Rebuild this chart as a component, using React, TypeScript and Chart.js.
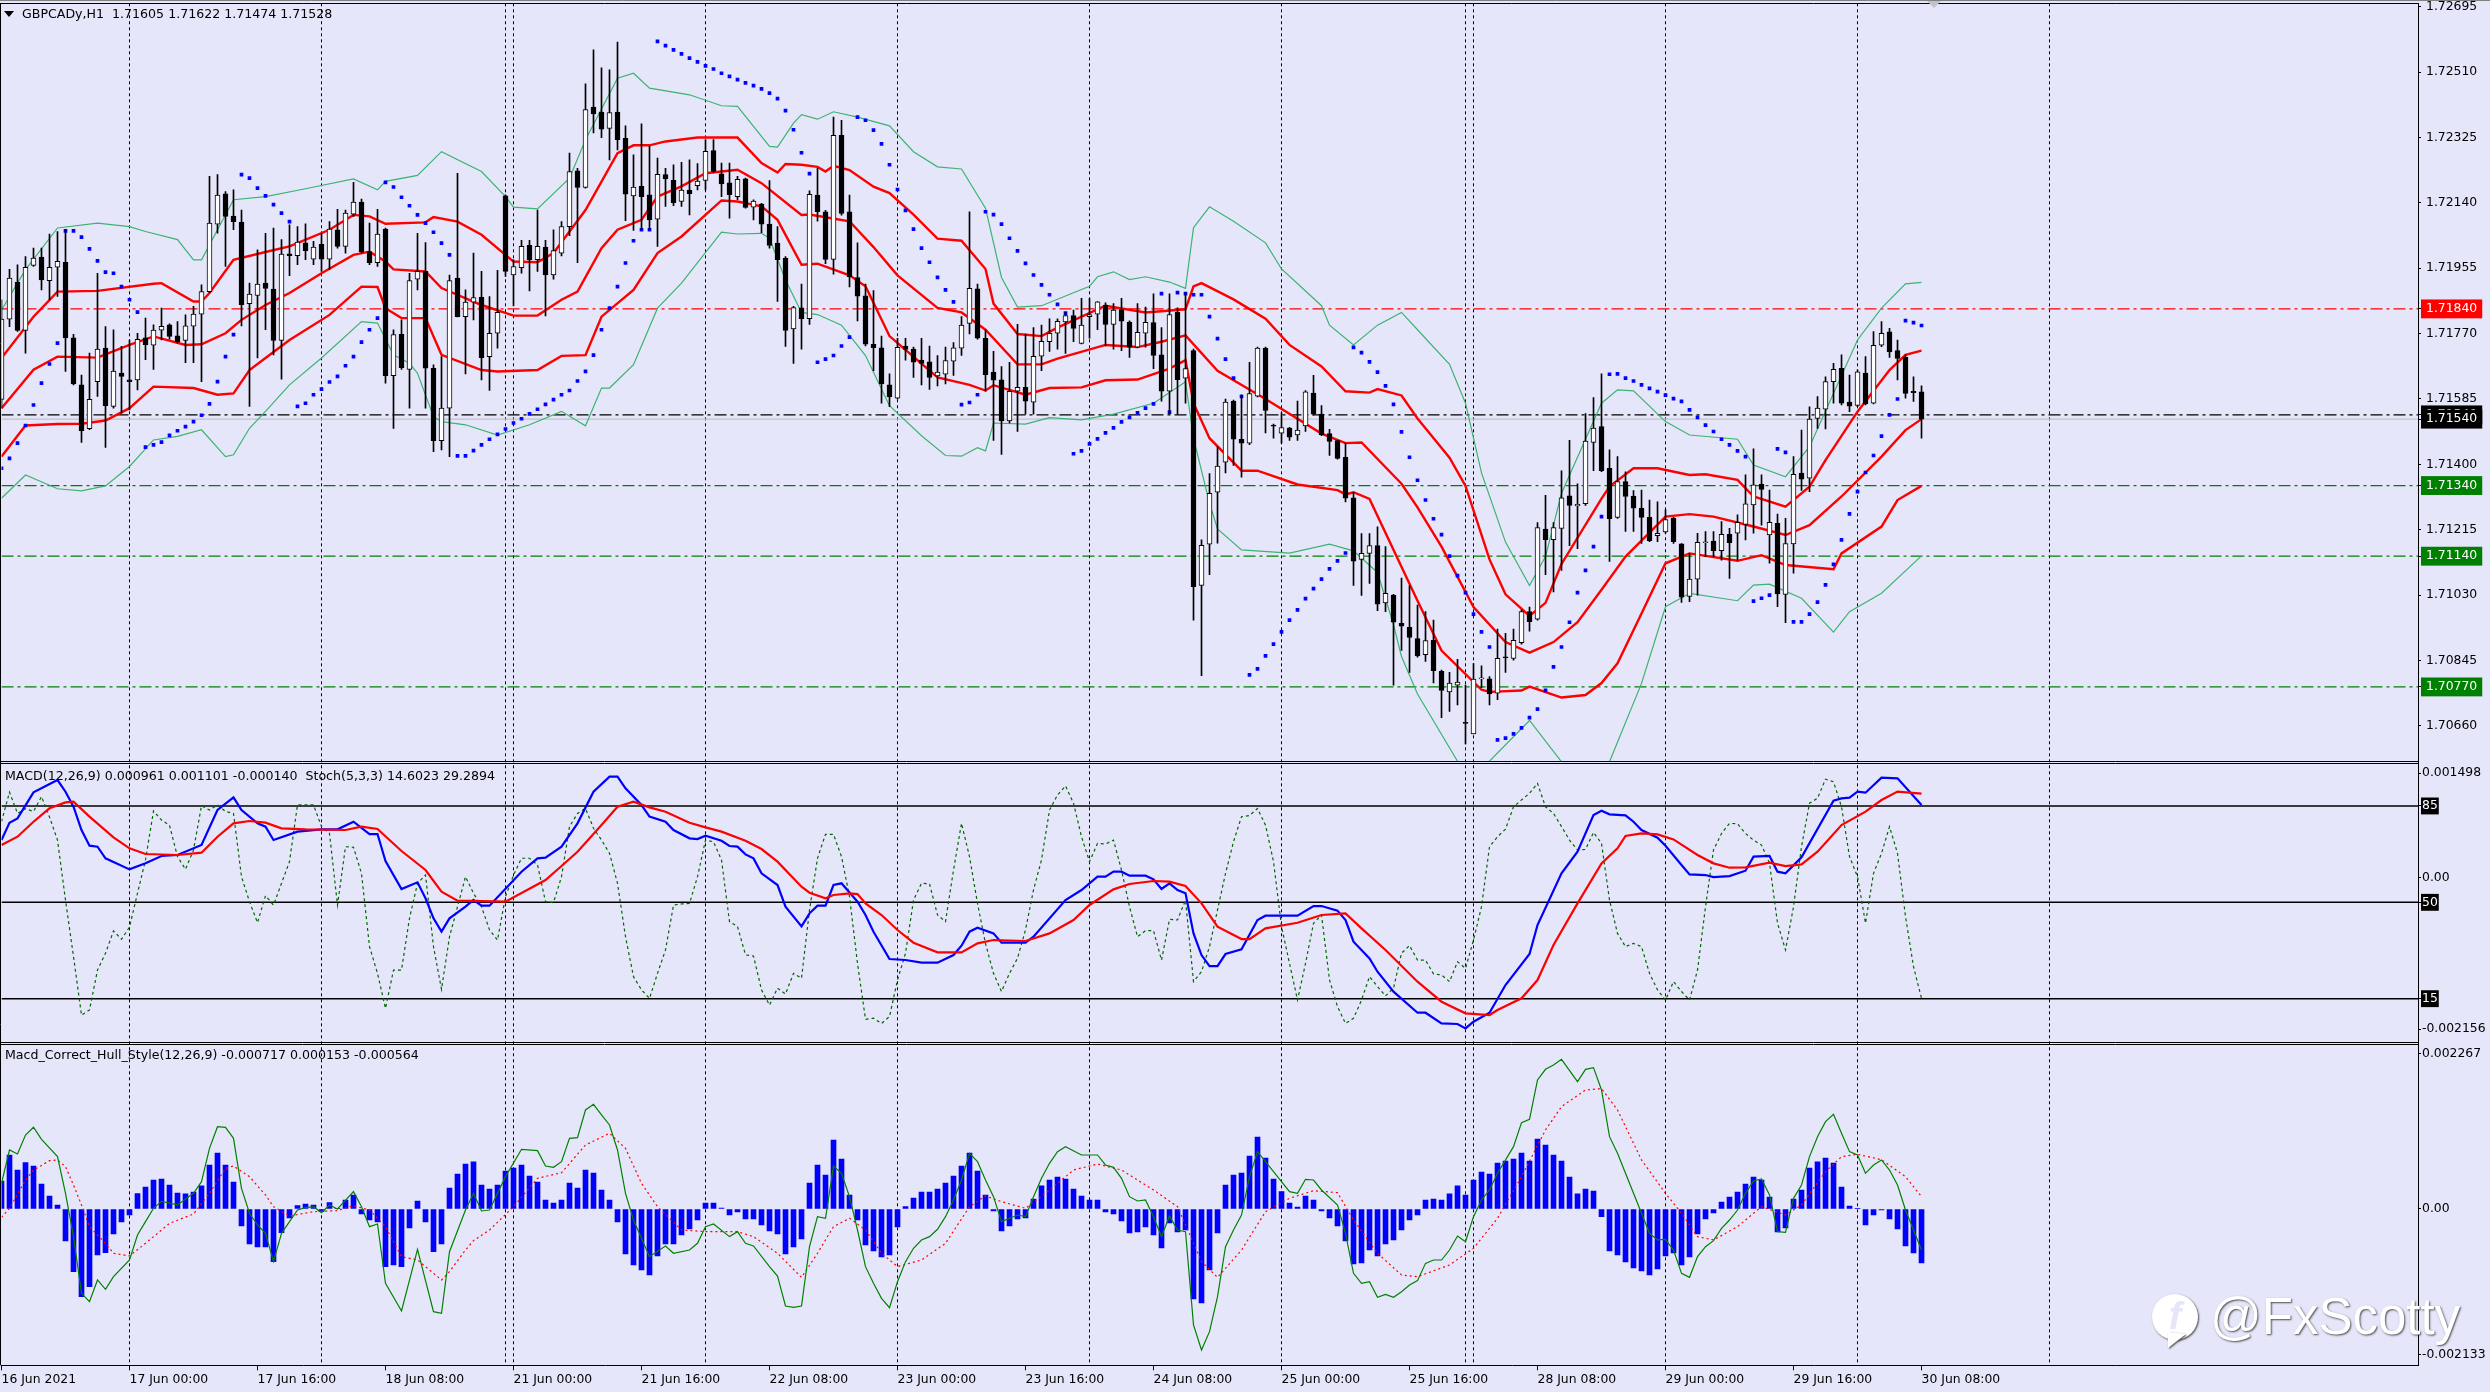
import { useEffect, useRef } from 'react';
import { Chart, registerables } from 'chart.js';

Chart.register(...registerables);

// prices are in points above 1.00000, MACD and Hull values in millionths
const OPEN = [
  71584,71811,71916,71779,71963,71987,71920,71958,71972,71758,
  71625,71501,71634,71729,71564,71658,71639,71639,71758,71737,
  71780,71795,71764,71751,71791,71825,71889,72080,72166,72103,
  72086,71855,71878,71913,71896,71751,71996,71991,72027,71981,
  72023,71981,72064,72017,72108,72142,72002,71971,72066,71651,
  71768,71669,71924,71946,71672,71467,71559,71927,71818,71859,
  71873,71705,71771,72160,71936,71957,72020,71979,72015,71936,
  71998,72073,72231,72184,72411,72397,72351,72397,72323,72160,
  72187,72163,72094,72220,72204,72144,72176,72189,72204,72288,
  72222,72197,72158,72208,72128,72137,72080,72026,71984,71783,
  71843,71812,72162,72115,71980,72331,72115,71929,71877,71740,
  71730,71625,71587,71735,71726,71695,71690,71650,71655,71692,
  71729,71799,71897,71757,71661,71639,71523,71607,71618,71576,
  71706,71747,71771,71803,71821,71742,71818,71825,71851,71796,
  71838,71803,71732,71771,71801,71710,71607,71830,71644,71722,
  71057,71174,71321,71406,71579,71471,71460,71593,71729,71509,
  71488,71503,71483,71509,71602,71542,71487,71467,71420,71305,
  71131,71148,71170,71008,71030,70950,70939,70907,70861,70902,
  70814,70756,70775,70668,70637,70793,70793,70752,70854,70851,
  70895,70983,70962,71217,71187,71219,71311,71282,71289,71462,
  71507,71389,71250,71351,71310,71276,71250,71198,71209,71248,
  71175,71026,71075,71178,71183,71156,71202,71205,71230,71285,
  71344,71200,71233,71032,71175,71375,71361,71530,71556,71634,
  71672,71576,71567,71658,71573,71737,71775,71722,71703,71607,
  71605,
];
const HIGH = [
  71866,71952,71965,71988,72012,72012,72052,72059,72064,71768,
  71653,71715,71941,71790,71781,71734,71752,71771,71814,71795,
  71842,71798,71804,71823,71847,71908,72215,72220,72172,72177,
  72120,71913,72007,72054,72069,72036,72078,72073,72081,72031,
  72054,72087,72122,72120,72198,72151,72083,72122,72069,71781,
  71809,71941,72054,72028,71682,71705,71936,72224,71894,71998,
  71946,71875,71949,72163,71979,72034,72034,72120,72034,72064,
  72087,72281,72238,72477,72573,72522,72517,72595,72358,72276,
  72364,72300,72267,72238,72248,72255,72262,72251,72319,72319,
  72253,72253,72215,72210,72149,72139,72203,72073,71988,71847,
  71910,72174,72238,72119,72383,72374,72162,72027,71910,71892,
  71763,71656,71757,71757,71732,71757,71735,71708,71732,71745,
  71818,72115,71910,71781,71720,71677,71689,71796,71769,71787,
  71794,71812,71812,71830,71837,71870,71870,71861,71857,71855,
  71870,71806,71855,71845,71883,71787,71883,71843,71886,71726,
  71186,71374,71450,71585,71582,71597,71689,71732,71732,71514,
  71546,71505,71579,71609,71652,71566,71499,71468,71460,71321,
  71204,71204,71223,71167,71032,71078,71057,71002,70983,70959,
  70818,70811,70848,70775,70836,70830,70799,70934,70922,70934,
  70989,70996,71235,71312,71235,71382,71468,71345,71544,71589,
  71656,71441,71422,71379,71326,71327,71299,71294,71271,71250,
  71176,71148,71205,71210,71210,71238,71219,71257,71370,71444,
  71370,71327,71259,71247,71422,71497,71563,71592,71648,71686,
  71710,71653,71667,71705,71776,71804,71785,71752,71710,71648,
  71622,
];
const LOW = [
  71559,71790,71776,71715,71960,71894,71866,71875,71663,71625,
  71462,71498,71592,71448,71559,71545,71554,71611,71696,71669,
  71752,71754,71743,71688,71688,71634,71886,72054,71960,72064,
  71792,71564,71701,71781,71710,71641,71934,71965,71979,71965,
  71946,71951,72012,71998,72102,71998,71965,71960,71630,71502,
  71669,71559,71894,71559,71436,71441,71422,71817,71656,71809,
  71639,71609,71729,71932,71849,71941,71891,71946,71820,71924,
  71990,72047,71971,72182,72338,72325,72262,72290,72090,72062,
  72064,72064,72017,72130,72132,72130,72106,72177,72177,72226,
  72158,72097,72149,72125,72092,72056,72012,71861,71734,71686,
  71726,71796,72088,71968,71938,72105,71902,71806,71735,71665,
  71573,71563,71585,71695,71646,71625,71612,71622,71628,71652,
  71708,71769,71754,71607,71468,71428,71517,71493,71542,71542,
  71665,71720,71726,71714,71747,71741,71757,71781,71735,71726,
  71722,71703,71730,71732,71671,71579,71542,71542,71573,70959,
  70802,71088,71177,71376,71397,71364,71456,71591,71489,71474,
  71460,71468,71468,71493,71539,71481,71425,71415,71294,71057,
  71029,71063,70986,70983,70775,70873,70811,70854,70842,70781,
  70683,70701,70719,70609,70637,70768,70719,70734,70811,70846,
  70891,70928,70959,71088,71039,71100,71170,71161,71284,71382,
  71379,71125,71247,71210,71210,71176,71181,71181,71205,71176,
  71009,71011,71030,71139,71139,71129,71077,71129,71186,71205,
  71228,71120,70997,70952,71092,71326,71323,71502,71500,71573,
  71568,71549,71563,71568,71571,71733,71703,71639,71587,71578,
  71474,
];
const CLOSE = [
  71811,71927,71779,71958,71984,71922,71958,71975,71758,71628,
  71495,71584,71726,71566,71664,71649,71634,71754,71739,71780,
  71791,71762,71747,71792,71825,71889,72083,72162,72102,72087,
  71852,71882,71910,71898,71751,71995,71991,72029,72005,72015,
  71981,72066,72017,72111,72142,72002,71971,72052,71651,71767,
  71674,71920,71946,71672,71467,71559,71920,71818,71859,71872,
  71702,71771,71830,71946,71960,72017,71979,72017,71936,72005,
  72073,72229,72184,72404,72392,72349,72396,72319,72165,72185,
  72158,72092,72221,72208,72141,72176,72166,72202,72286,72229,
  72194,72163,72207,72127,72145,72080,72020,71979,71779,71844,
  71812,72164,72115,71980,72331,72110,71931,71876,71740,71730,
  71628,71591,71731,71725,71689,71686,71646,71661,71694,71730,
  71794,71898,71757,71654,71638,71523,71607,71618,71579,71706,
  71748,71771,71805,71821,71785,71794,71824,71860,71796,71837,
  71805,71732,71774,71802,71708,71607,71824,71640,71671,71054,
  71171,71318,71395,71576,71471,71460,71600,71729,71553,71508,
  71504,71477,71497,71605,71542,71484,71465,71417,71304,71126,
  71148,71170,71004,71035,70953,70942,70910,70858,70901,70816,
  70760,70781,70784,70667,70792,70793,70750,70851,70852,70902,
  70983,70955,71221,71187,71221,71305,71284,71287,71466,71503,
  71382,71246,71351,71309,71276,71250,71184,71205,71244,71181,
  71024,71075,71179,71181,71156,71202,71178,71236,71288,71342,
  71329,71236,71033,71176,71372,71358,71528,71559,71634,71669,
  71573,71565,71662,71571,71737,71771,71718,71700,71601,71603,
  71528,
];
const SAR = [
  71389,71417,71460,71510,71568,71630,71684,71743,72061,72061,
  72043,72010,71976,71944,71941,71903,71866,71831,71449,71455,
  71463,71482,71495,71507,71521,71539,71571,71634,71705,71767,
  72220,72210,72182,72160,72135,72111,72087,71564,71573,71597,
  71613,71633,71649,71679,71705,71746,71781,71814,72198,72185,
  72156,72132,72106,72083,72057,72026,71993,71424,71424,71439,
  71455,71471,71485,71500,71517,71529,71543,71556,71570,71583,
  71597,71609,71636,71663,71709,71781,71842,71903,71970,72033,
  72064,72064,72597,72585,72573,72562,72550,72539,72528,72519,
  72507,72498,72489,72480,72472,72463,72451,72435,72401,72347,
  72282,72223,71689,71698,71708,71735,71760,72383,72374,72346,
  72307,72248,72178,72119,72066,72012,71972,71929,71894,71860,
  71569,71575,71597,72115,72107,72080,72040,72004,71969,71936,
  71908,71880,71853,71828,71430,71438,71458,71472,71489,71503,
  71520,71533,71546,71559,71571,71883,71548,71886,71883,71880,
  71880,71818,71756,71698,71644,71592,70804,70821,70858,70891,
  70926,70959,70988,71020,71048,71075,71104,71127,71149,71731,
  71716,71690,71661,71622,71570,71492,71420,71355,71299,71246,
  71201,71140,71085,71037,70976,70926,70883,70620,70625,70637,
  70654,70683,70707,70760,70827,70883,70953,71037,71100,71167,
  71252,71655,71656,71644,71636,71625,71615,71606,71596,71586,
  71578,71554,71533,71511,71493,71471,71455,71438,71422,71013,
  71021,71030,71444,71434,70954,70954,70976,71010,71059,71117,
  71186,71260,71323,71377,71425,71480,71540,71585,71807,71801,
  71793,
];
const BAND_UP_BARS = [0,4,7,12,19,20,24,25,26,29,33,36,41,44,46,48,53,54,57,60,64,67,69,73,77,79,81,83,87,92,95,97,98,100,102,103,104,106,109,111,114,117,120,123,124,127,130,132,138,143,148,149,150,154,158,161,165,168,171,172,175,177,181,183,186,188,191,193,195,200,201,204,207,211,213,217,219,223,226,228,232,236,238,240];
const BAND_UP = [71701,71818,71889,71891,71911,71913,71861,71861,71885,71979,72001,72017,72064,72106,72102,72081,72085,72100,72087,72050,71974,71972,71998,72120,72281,72303,72303,72314,72325,72325,72253,72226,72250,72248,72242,72229,72245,72233,72186,72168,72107,72039,72033,71953,71855,71769,71763,71787,71849,71830,71839,71904,71913,71867,71812,71738,71677,71607,71603,71613,71595,71530,71419,71339,71131,71032,70971,71008,71118,71303,71337,71389,71389,71370,71372,71356,71309,71280,71337,71412,71549,71667,71710,71722];
const BAND_MID_BARS = [0,4,7,12,16,19,23,25,28,30,33,36,40,44,46,48,49,53,55,60,64,67,70,72,75,77,80,82,85,88,92,95,100,101,106,109,112,117,120,123,127,130,132,138,142,145,148,152,158,165,168,170,175,177,180,184,188,191,194,197,200,203,208,211,214,219,223,226,230,235,238,240];
const BAND_MID = [71559,71668,71705,71702,71738,71762,71738,71740,71771,71809,71851,71885,71941,71993,72002,71974,71952,71946,71899,71851,71821,71821,71866,71889,72012,72064,72092,72158,72187,72224,72234,72196,72106,72107,72088,72015,71935,71843,71830,71781,71683,71683,71699,71738,71732,71747,71765,71665,71585,71487,71460,71462,71345,71278,71167,70996,70897,70867,70897,70953,71045,71139,71252,71259,71252,71224,71200,71228,71309,71422,71497,71528];
const BAND_LOW_BARS = [0,3,7,10,13,16,19,24,27,29,31,33,36,41,45,47,48,50,53,55,60,62,67,70,73,75,79,82,85,90,92,95,97,100,102,106,108,111,117,121,123,124,128,131,135,138,142,146,148,149,151,155,157,162,167,168,169,171,177,180,185,186,190,191,195,198,200,202,205,208,211,217,220,223,229,230,235,237,240];
const BAND_LOW = [71422,71510,71514,71515,71524,71559,71620,71616,71597,71601,71667,71701,71752,71823,71903,71902,71842,71814,71814,71710,71667,71663,71667,71707,71709,71818,71894,71998,72045,72147,72144,72130,72092,71965,71968,71935,71904,71763,71646,71625,71609,71624,71597,71616,71618,71638,71640,71671,71695,71573,71474,71382,71382,71343,71327,71315,71321,71302,71014,70873,70762,70756,70760,70771,70740,70747,70781,70837,70978,71120,71148,71127,71143,71115,71103,71148,71224,71299,71339];
const ENV_UP_BARS = [0,3,7,12,16,18,22,24,25,29,33,38,44,47,48,52,55,60,63,64,67,71,73,77,79,81,86,90,92,96,97,99,100,102,104,107,111,114,117,120,123,125,127,130,136,137,139,141,143,146,148,149,151,154,158,160,165,166,169,172,175,177,181,183,185,188,191,193,195,200,202,204,208,211,217,219,223,226,232,235,238,240];
const ENV_UP = [71837,71951,72069,72083,72073,72059,72036,71979,71979,72149,72158,72180,72208,72177,72201,72218,72285,72229,72158,72128,72123,72210,72319,72493,72507,72465,72446,72415,72413,72300,72298,72366,72390,72377,72398,72383,72358,72285,72242,72236,72125,71929,71845,71849,71904,71931,71945,71923,71931,71916,71898,72070,72129,72088,72027,71953,71849,71794,71738,71794,71830,71781,71683,71573,71376,71180,71057,71139,71318,71573,71611,71608,71521,71483,71471,71398,71365,71450,71752,71842,71911,71915];
const ENV_LOW_BARS = [0,3,7,10,13,16,19,22,25,28,29,31,33,36,40,45,47,49,51,52,54,55,58,62,66,70,73,75,76,79,82,85,90,92,95,96,98,100,102,105,108,111,115,118,120,122,123,124,128,131,135,139,144,148,149,151,152,155,161,166,169,172,174,175,177,182,184,186,191,195,198,201,205,208,211,217,219,221,225,229,231,235,240];
const ENV_LOW = [71304,71370,71331,71325,71339,71394,71469,71479,71498,71422,71427,71502,71550,71625,71701,71804,71800,71710,71686,71658,71535,71521,71512,71483,71512,71550,71509,71616,71616,71682,71842,71913,72057,72052,72054,72040,71922,71830,71824,71794,71708,71566,71481,71425,71423,71447,71438,71517,71514,71532,71526,71542,71573,71634,71474,71290,71217,71158,71149,71174,71155,71094,70946,70856,70750,70560,70400,70560,70675,70558,70420,70558,70780,70997,71035,71014,71058,71061,71021,70925,70983,71035,71141];

const MACD_MAIN_BARS = [0,1,2,4,7,8,9,10,11,12,13,16,18,20,22,25,27,29,30,32,33,34,37,40,42,44,46,47,48,50,52,53,54,55,56,58,59,60,61,65,67,68,70,72,74,76,77,78,80,81,83,84,86,87,88,90,91,92,93,94,95,97,98,100,101,102,103,104,105,107,108,109,111,113,115,117,119,120,121,122,124,125,128,129,133,135,137,138,139,140,141,143,144,145,146,147,148,149,150,151,152,153,155,157,158,162,164,165,167,168,169,171,172,174,177,178,180,182,183,184,186,188,191,192,195,197,199,200,201,203,204,205,207,208,210,211,213,214,216,218,219,221,222,223,225,229,230,231,232,233,235,237,240];
const MACD_MAIN = [542,789,851,1222,1398,1231,1017,685,461,447,280,123,209,314,328,471,970,1151,970,780,732,542,661,694,694,803,627,627,242,-157,-62,-290,-576,-766,-576,-409,-314,-395,-395,90,280,290,447,780,1231,1445,1445,1279,1041,875,803,685,566,556,604,532,456,447,337,280,66,-100,-409,-690,-504,-395,-395,-100,-76,-338,-528,-766,-1156,-1170,-1208,-1208,-1099,-966,-766,-709,-790,-923,-923,-837,-314,-172,19,19,90,90,33,33,-19,-157,-76,-172,-219,-790,-1099,-1256,-1256,-1085,-1018,-600,-538,-538,-400,-400,-466,-600,-909,-1147,-1337,-1622,-1922,-1922,-2074,-2083,-2145,-2050,-1922,-1527,-1085,-671,66,375,899,960,908,894,803,685,575,461,185,52,42,14,28,104,304,314,90,66,295,1103,1136,1146,1231,1217,1431,1422,1041];
const MACD_SIGNAL_BARS = [0,2,4,6,8,9,11,14,16,18,22,25,27,29,31,33,35,38,43,45,47,50,53,55,57,63,68,70,72,75,77,79,81,83,86,88,90,93,95,97,100,101,103,104,106,107,108,110,112,114,117,120,122,124,128,131,134,136,139,141,144,146,148,150,152,155,156,158,162,165,168,170,173,177,180,183,186,187,190,192,194,197,200,202,203,205,207,209,212,214,216,218,221,223,225,227,230,233,235,237,240];
const MACD_SIGNAL = [471,589,803,994,1079,1089,875,580,423,342,328,361,589,780,813,789,708,694,685,732,699,385,114,-195,-324,-338,-29,171,375,756,1017,1089,1008,946,789,723,661,532,413,233,-124,-210,-290,-243,-219,-229,-362,-528,-742,-923,-1061,-1061,-933,-885,-899,-790,-600,-385,-162,-86,-43,-52,-114,-362,-695,-871,-871,-718,-638,-528,-504,-718,-1028,-1479,-1765,-1931,-1955,-1884,-1717,-1456,-956,-362,209,423,599,637,623,551,328,209,147,152,218,171,195,375,756,946,1113,1232,1203];
const STOCH = [
  79.3,90,82.3,84,83,88.4,81,72.6,50.8,30.3,
  9,10.9,25.4,31.5,39.6,36.6,41,53.3,65.4,83.2,
  79.9,78,66.6,62,69,85.1,83.5,85.4,83,82.3,
  59.3,50.2,42.6,52.4,49,56.9,64.8,85.4,85.4,85.4,
  77.5,75,49,70.2,70,60.5,33.9,24.2,11.5,25.4,
  25.4,44.2,56.9,59.9,33.9,18.4,37.5,48.4,59.3,53.3,
  48.4,40,36.3,52.1,59.9,66,66,63.6,50.2,49.9,
  59.3,77.5,82.3,84.1,76.9,72.6,67.8,56.9,37.5,23,
  18.2,15.1,24.2,32.7,49,49.4,49.6,59.3,72.6,72,
  65.4,43,41.2,30.9,30.5,18.2,12.7,18.8,16.7,24.2,
  22.4,47.2,66,74.7,74.7,66.6,52.1,27.8,7.5,7.9,
  6,8.5,21.8,31.5,50.8,56.9,56.7,45.4,43,61.7,
  78.7,66.6,49.6,35,24.2,17.6,24.2,29.7,40,54.5,
  65.4,83.5,89,92.3,86,73.8,64.8,71.4,71.2,72.6,
  61.7,48.4,37.5,39.7,39.7,29,43.8,43.6,50.8,21.2,
  24.8,33.9,47.2,60.5,72,81.1,81.5,84.1,78,64.8,
  41.2,27.8,14.5,27.8,42.4,45.4,21.8,12.1,6,7.9,
  14.5,23,19.4,16,18.8,31.5,34.3,29,29,24,
  23.6,21.2,28.4,26,36.3,48.4,70.2,73.8,76.6,84.7,
  87.2,89.6,93.2,84.7,82.3,77.5,72.6,69,69.2,75.4,
  71.4,50.8,38.7,33.9,35.1,33.9,24.2,18.2,14.5,21.2,
  17.6,14.5,25.4,48.4,69,75,78.7,78.5,75,72.6,
  70.8,64.2,42.4,32.7,48.4,70.2,86,87.8,94.7,93.8,
  84.7,66.6,59.3,42.4,60.5,67.8,77.5,67.8,44.8,26.6,
  15.1,
];
const HULL_HIST = [
  410,790,570,678,629,366,190,59,-468,-916,
  -1282,-1136,-673,-639,-366,-190,-88,224,322,424,
  439,351,234,220,249,337,644,819,644,395,
  -249,-512,-556,-556,-770,-346,-132,49,73,59,
  -39,93,10,132,205,-73,-161,-190,-843,-819,
  -843,-278,117,-190,-624,-512,307,512,658,688,
  351,293,351,556,600,644,483,395,132,88,
  132,380,307,570,527,278,132,-190,-658,-819,
  -892,-965,-687,-512,-512,-380,-293,-161,88,88,
  15,-88,-44,-146,-146,-234,-322,-366,-658,-556,
  -439,380,644,497,1009,731,205,-161,-526,-614,
  -702,-673,-263,34,161,249,249,293,380,483,
  629,819,556,205,-29,-322,-249,-146,-132,146,
  337,424,468,439,293,190,132,132,-44,-73,
  -175,-351,-336,-263,-380,-570,-205,-336,-307,-1316,
  -1375,-892,-351,351,497,527,775,1053,746,439,
  254,88,29,190,132,-29,-132,-249,-468,-804,
  -790,-600,-687,-512,-453,-307,-161,-88,132,146,
  132,220,337,205,424,541,512,673,702,731,
  819,702,1024,936,790,702,468,220,293,263,
  -112,-614,-673,-775,-863,-907,-965,-877,-687,-643,
  -819,-702,-366,-146,-58,102,176,249,366,468,
  424,176,-336,-278,146,278,600,688,746,673,
  322,44,10,-234,-88,-15,-146,-293,-541,-643,
  -790,
];
const HULL_FAST_BARS = [0,1,2,3,4,5,7,8,9,10,11,12,13,14,16,17,18,19,20,22,24,25,26,27,28,29,30,31,32,33,34,35,36,37,38,39,40,41,42,44,45,46,47,48,50,52,54,55,56,58,59,60,61,63,65,67,68,69,70,71,72,73,74,75,76,77,78,79,81,83,84,86,87,88,89,91,92,93,94,96,97,98,99,100,101,102,103,104,105,106,107,108,109,110,111,112,113,114,115,116,117,118,119,120,121,122,123,124,125,127,128,129,130,131,132,133,135,137,138,139,140,141,142,143,144,145,146,147,148,149,150,151,152,153,154,155,156,157,158,159,161,162,163,164,165,167,168,169,170,171,172,173,174,175,176,177,178,179,180,181,182,183,184,185,186,187,189,190,191,192,193,194,195,197,198,199,200,201,202,203,204,205,206,207,208,209,210,211,212,213,214,215,216,217,218,219,220,221,222,223,224,225,226,227,228,229,230,231,232,233,234,235,236,237,238,239,240];
const HULL_FAST = [375,863,804,1082,1195,1019,766,229,-404,-1233,-1355,-1038,-1175,-990,-746,-380,-185,10,112,59,229,400,887,1204,1195,1034,302,-63,-234,-356,-770,-356,-185,-15,20,34,-54,59,0,254,34,-258,-219,-1087,-1492,-590,-1502,-1526,-624,-15,229,-29,-15,473,873,853,629,609,692,1034,1043,1448,1531,1375,1229,863,229,-161,-697,-541,-648,-600,-502,-258,-219,-404,-331,-502,-541,-843,-980,-1419,-1438,-1419,-551,-112,-136,629,522,180,-307,-843,-1087,-1306,-1443,-1063,-770,-575,-453,-404,-297,-112,132,424,814,692,424,180,-185,-88,-112,180,449,668,839,912,790,790,644,609,449,180,117,132,-112,-404,-102,-307,-331,-1696,-2062,-1794,-1282,-551,-307,-88,473,839,692,546,254,229,434,424,278,59,-356,-941,-1087,-1063,-1292,-1248,-1292,-1209,-1111,-1048,-795,-746,-746,-600,-395,-478,-112,132,278,522,912,1263,1312,1887,2043,2106,2189,1862,2043,2067,1741,1058,814,522,229,-63,-356,-453,-444,-600,-941,-999,-697,-551,-463,-283,-161,-15,229,410,439,205,-331,-341,156,351,766,1058,1277,1385,1107,839,790,522,644,717,570,351,-15,-307,-600];
const HULL_SLOW_BARS = [0,1,3,4,6,7,8,9,10,11,13,14,16,18,21,24,26,28,29,31,33,34,36,39,42,44,46,48,50,52,55,56,58,59,61,64,67,70,73,76,78,80,82,85,88,92,94,97,100,102,104,106,108,110,112,115,118,121,123,125,128,131,134,137,140,144,147,150,152,155,158,161,164,167,169,172,175,177,181,184,187,190,193,195,198,200,202,205,208,210,212,214,217,220,223,225,228,230,232,235,238,240];
const HULL_SLOW = [-122,10,424,570,707,717,619,351,59,-258,-502,-648,-687,-502,-210,-73,229,595,629,473,205,34,-102,-39,-24,49,-15,-258,-697,-746,-1038,-916,-600,-463,-307,34,449,531,936,1107,887,375,34,-307,-331,-331,-404,-648,-1000,-648,-258,-136,-307,-648,-843,-746,-502,34,190,107,10,278,570,658,570,278,34,-770,-999,-600,-39,156,268,239,-161,-648,-965,-990,-819,-575,-136,473,1156,1497,1741,1760,1448,717,229,-63,-404,-453,-258,34,-88,59,546,765,800,721,473,180];

const PRICE_TICKS = [72695,72510,72325,72140,71955,71770,71585,71400,71215,71030,70845,70660];
const LEVEL_RED = [71840];
const LEVEL_GREEN = [71340,71140,70770];
const LEVEL_ASK = 71540;
const LEVEL_BID = 71528;
const STOCH_LEVELS = [85,50,15];
const MACD_TICKS = [1498,0,-2156];
const HULL_TICKS = [2267,0,-2133];
const TIME_LABELS = ['16 Jun 2021','17 Jun 00:00','17 Jun 16:00','18 Jun 08:00','21 Jun 00:00','21 Jun 16:00','22 Jun 08:00','23 Jun 00:00','23 Jun 16:00','24 Jun 08:00','25 Jun 00:00','25 Jun 16:00','28 Jun 08:00','29 Jun 00:00','29 Jun 16:00','30 Jun 08:00'];
const PERIOD_BARS = [16,40,63,64,88,112,136,160,183,184,208,232,256];
const LAST_BAR = 302.06;

const UI_FONT = '"DejaVu Sans"';
const BG = '#E6E6FA';
const DASH_DOT = [12, 4, 3, 4];

const polyline = (bars: number[], values: number[]) => bars.map((x, i) => ({ x, y: values[i] }));
const perBar = (values: number[]) => values.map((y, x) => ({ x, y }));
const level = (y: number) => [{ x: 0, y }, { x: LAST_BAR, y }];
// Stochastic shares the MACD window: map its 0-100 range onto the MACD scale
const stochOnMacd = (s: number) => -347 + (s - 50) * 39.28;

const priceLabel = (v: number) => {
  if (v === LEVEL_BID || v === LEVEL_ASK) return (1 + LEVEL_ASK / 100000).toFixed(5);
  return (1 + v / 100000).toFixed(5);
};
const tagColor = (v: number) => {
  if (v === LEVEL_ASK || v === LEVEL_BID) return '#000000';
  if (LEVEL_RED.includes(v)) return '#FF0000';
  if (LEVEL_GREEN.includes(v)) return '#008000';
  return null;
};
const stochAt = (v: number) => STOCH_LEVELS.find((s) => Math.abs(stochOnMacd(s) - v) < 0.01);

const axisBase = {
  type: 'linear' as const,
  position: 'right' as const,
  stack: 'panes',
  afterFit: (s: any) => {
    s.width = 72;
    s.paddingTop = 0;
    s.paddingBottom = 0;
  },
  grid: { drawOnChartArea: false, tickLength: 3, tickColor: '#000000' },
  border: { color: '#000000', width: 1 },
};

// pin the three windows and the time axis to the terminal's own geometry
const panesPlugin = {
  id: 'panes',
  afterLayout(chart: any) {
    const { x, yPrice, yMacd, yHull } = chart.scales;
    const area = chart.chartArea;
    area.left = 1.5;
    area.right = 2418;
    area.top = 3.3;
    area.bottom = 1365.3;
    area.width = area.right - area.left;
    area.height = area.bottom - area.top;
    x.left = area.left;
    x.right = area.right;
    x.width = area.width;
    x.top = area.bottom;
    x.bottom = 1392;
    x.configure();
    [[yPrice, 3.3, 762], [yMacd, 762, 1042.5], [yHull, 1042.5, 1365.3]].forEach(([s, top, bottom]: any) => {
      s.top = top;
      s.bottom = bottom;
      s.height = bottom - top;
      s.left = 2418;
      s.right = 2490;
      s.configure();
    });
  },
};

// window frames, captions and the corner watermark
const chromePlugin = {
  id: 'chrome',
  afterDraw(chart: any) {
    const { ctx, chartArea, scales } = chart;
    ctx.save();
    ctx.strokeStyle = '#000000';
    ctx.lineWidth = 1;
    const hline = (y: number) => {
      ctx.beginPath();
      ctx.moveTo(0, y);
      ctx.lineTo(chartArea.right, y);
      ctx.stroke();
    };
    hline(3.5);
    [scales.yPrice.bottom, scales.yMacd.bottom].forEach((y: number) => {
      const py = Math.round(y);
      hline(py - 0.5);
      hline(py + 1.5);
    });
    ctx.beginPath();
    ctx.moveTo(0.5, 3);
    ctx.lineTo(0.5, chartArea.bottom);
    ctx.stroke();
    ctx.strokeStyle = '#808080';
    ctx.beginPath();
    ctx.moveTo(0, 0.5);
    ctx.lineTo(2490, 0.5);
    ctx.stroke();

    ctx.fillStyle = '#C0C0C8';
    ctx.beginPath();
    ctx.moveTo(1927, 1);
    ctx.lineTo(1941, 1);
    ctx.lineTo(1934, 8);
    ctx.fill();

    ctx.fillStyle = '#000000';
    ctx.beginPath();
    ctx.moveTo(4, 11);
    ctx.lineTo(14, 11);
    ctx.lineTo(9, 17);
    ctx.fill();

    ctx.font = `12.6px ${UI_FONT}`;
    ctx.textBaseline = 'middle';
    ctx.fillText('GBPCADy,H1  1.71605 1.71622 1.71474 1.71528', 22, 15);
    ctx.fillText('MACD(12,26,9) 0.000961 0.001101 -0.000140  Stoch(5,3,3) 14.6023 29.2894', 5, 777);
    ctx.fillText('Macd_Correct_Hull_Style(12,26,9) -0.000717 0.000153 -0.000564', 5, 1056);

    ctx.shadowColor = 'rgba(60,60,60,0.9)';
    ctx.shadowBlur = 2;
    ctx.shadowOffsetX = 1;
    ctx.shadowOffsetY = 1;
    ctx.fillStyle = '#FFFFFF';
    ctx.beginPath();
    ctx.arc(2175, 1317, 23, 0, Math.PI * 2);
    ctx.fill();
    ctx.beginPath();
    ctx.moveTo(2168, 1332);
    ctx.lineTo(2168, 1348);
    ctx.lineTo(2186, 1334);
    ctx.fill();
    ctx.shadowColor = 'transparent';
    ctx.fillStyle = BG;
    ctx.font = 'italic bold 38px "Liberation Sans"';
    ctx.textAlign = 'center';
    ctx.fillText('f', 2175, 1319);
    ctx.shadowColor = 'rgba(60,60,60,0.9)';
    ctx.fillStyle = '#FFFFFF';
    ctx.font = '51px "Liberation Sans"';
    ctx.textAlign = 'left';
    ctx.fillText('@FxScotty', 2210, 1320);
    ctx.restore();
  },
};

export default function App() {
  const canvasRef = useRef<HTMLCanvasElement | null>(null);

  useEffect(() => {
    document.body.style.margin = '0';
    if (!canvasRef.current) return;

    const candleColors = CLOSE.map((c, i) => (c >= OPEN[i] ? '#FFFFFF' : '#000000'));
    const thinLine = { type: 'line', pointRadius: 0, tension: 0, borderWidth: 1.2 };

    const chart = new Chart(canvasRef.current, {
      type: 'bar',
      data: {
        datasets: [
          // price window
          { data: CLOSE.map((_, x) => ({ x, y: [OPEN[x], CLOSE[x]] })), yAxisID: 'yPrice', order: 1, grouped: false, barThickness: 5, minBarLength: 1, backgroundColor: candleColors, borderColor: '#000000', borderWidth: 1, borderSkipped: false },
          { data: CLOSE.map((_, x) => ({ x, y: [LOW[x], HIGH[x]] })), yAxisID: 'yPrice', order: 2, grouped: false, barThickness: 1, backgroundColor: '#000000', borderWidth: 0 },
          { ...thinLine, data: perBar(SAR), yAxisID: 'yPrice', order: 3, showLine: false, pointRadius: 2.6, pointStyle: 'rect', pointBackgroundColor: '#0000FF', pointBorderWidth: 0 },
          { ...thinLine, data: polyline(BAND_UP_BARS, BAND_UP), yAxisID: 'yPrice', order: 4, borderColor: '#FF0000', borderWidth: 2.4 },
          { ...thinLine, data: polyline(BAND_MID_BARS, BAND_MID), yAxisID: 'yPrice', order: 4, borderColor: '#FF0000', borderWidth: 2.4 },
          { ...thinLine, data: polyline(BAND_LOW_BARS, BAND_LOW), yAxisID: 'yPrice', order: 4, borderColor: '#FF0000', borderWidth: 2.4 },
          { ...thinLine, data: polyline(ENV_UP_BARS, ENV_UP), yAxisID: 'yPrice', order: 5, borderColor: '#3CB371' },
          { ...thinLine, data: polyline(ENV_LOW_BARS, ENV_LOW), yAxisID: 'yPrice', order: 5, borderColor: '#3CB371' },
          ...LEVEL_RED.map((y) => ({ ...thinLine, data: level(y), yAxisID: 'yPrice', order: 6, borderColor: '#FF0000', borderDash: DASH_DOT })),
          ...LEVEL_GREEN.map((y) => ({ ...thinLine, data: level(y), yAxisID: 'yPrice', order: 6, borderColor: '#008000', borderDash: DASH_DOT })),
          { ...thinLine, data: level(LEVEL_ASK), yAxisID: 'yPrice', order: 6, borderColor: '#000000', borderDash: DASH_DOT },
          { ...thinLine, data: level(LEVEL_BID), yAxisID: 'yPrice', order: 6, borderColor: '#C0C0C0' },
          // MACD and Stochastic window
          { ...thinLine, data: STOCH.map((s, x) => ({ x, y: stochOnMacd(s) })), yAxisID: 'yMacd', order: 3, borderColor: '#006400', borderDash: [3, 3] },
          ...STOCH_LEVELS.map((s) => ({ ...thinLine, data: level(stochOnMacd(s)), yAxisID: 'yMacd', order: 3, borderColor: '#000000', borderWidth: 1.5 })),
          { ...thinLine, data: polyline(MACD_SIGNAL_BARS, MACD_SIGNAL), yAxisID: 'yMacd', order: 1, borderColor: '#FF0000', borderWidth: 2.2 },
          { ...thinLine, data: polyline(MACD_MAIN_BARS, MACD_MAIN), yAxisID: 'yMacd', order: 2, borderColor: '#0000FF', borderWidth: 2.2 },
          // Hull window
          { ...thinLine, data: polyline(HULL_FAST_BARS, HULL_FAST), yAxisID: 'yHull', order: 1, borderColor: '#008000' },
          { ...thinLine, data: polyline(HULL_SLOW_BARS, HULL_SLOW), yAxisID: 'yHull', order: 1, borderColor: '#FF0000', borderDash: [2, 3] },
          { data: perBar(HULL_HIST), yAxisID: 'yHull', order: 3, grouped: false, barThickness: 5, backgroundColor: '#0000FF', borderWidth: 0 },
        ] as any,
      },
      options: {
        responsive: false,
        animation: false,
        devicePixelRatio: 1,
        events: [],
        layout: { padding: { left: 1.5, top: 3.3, right: 0, bottom: 0 } },
        plugins: { legend: { display: false }, tooltip: { enabled: false } },
        scales: {
          x: {
            type: 'linear',
            offset: false,
            min: 0,
            max: LAST_BAR,
            afterBuildTicks: (s: any) => {
              const bars = new Set([...TIME_LABELS.map((_, i) => i * 16), ...PERIOD_BARS]);
              s.ticks = [...bars].sort((a, b) => a - b).map((value) => ({ value }));
            },
            afterFit: (s: any) => {
              s.height = 26.7;
              s.paddingLeft = 0;
              s.paddingRight = 0;
            },
            ticks: {
              autoSkip: false,
              maxRotation: 0,
              align: 'start',
              padding: 2,
              color: '#000000',
              font: { family: UI_FONT, size: 12.4 },
              callback: (v: any) => (v % 16 === 0 ? TIME_LABELS[v / 16] ?? '' : ''),
            },
            grid: {
              offset: false,
              color: (c: any) => (PERIOD_BARS.includes(c.tick?.value) ? '#000000' : 'transparent'),
              tickColor: (c: any) => (c.tick?.value % 16 === 0 && c.tick?.value <= 240 ? '#000000' : 'transparent'),
              tickLength: 5,
            },
            border: { color: '#000000', dash: [3, 3] },
          },
          yPrice: {
            ...axisBase,
            stackWeight: 758.7,
            min: 70557.5,
            max: 72705,
            afterBuildTicks: (s: any) => {
              const all = [...PRICE_TICKS, ...LEVEL_RED, ...LEVEL_GREEN, LEVEL_ASK, LEVEL_BID];
              s.ticks = all.map((value) => ({ value }));
            },
            ticks: {
              autoSkip: false,
              padding: 5,
              font: { family: UI_FONT, size: 12.4 },
              callback: (v: any) => priceLabel(v),
              color: (c: any) => (tagColor(c.tick?.value) ? '#FFFFFF' : '#000000'),
              showLabelBackdrop: (c: any) => !!tagColor(c.tick?.value),
              backdropColor: (c: any) => tagColor(c.tick?.value) ?? 'transparent',
              backdropPadding: { x: 5, y: 2 },
            },
          },
          yMacd: {
            ...axisBase,
            stackWeight: 280.5,
            min: -2347,
            max: 1655,
            afterBuildTicks: (s: any) => {
              const all = [...MACD_TICKS, ...STOCH_LEVELS.map(stochOnMacd)];
              s.ticks = all.map((value) => ({ value }));
            },
            ticks: {
              autoSkip: false,
              padding: 1,
              font: { family: UI_FONT, size: 12.4 },
              callback: (v: any) => {
                const s = stochAt(v);
                if (s !== undefined) return String(s);
                return v === 0 ? '0.00' : (v / 1000000).toFixed(6);
              },
              color: (c: any) => (stochAt(c.tick?.value) !== undefined ? '#FFFFFF' : '#000000'),
              showLabelBackdrop: (c: any) => stochAt(c.tick?.value) !== undefined,
              backdropColor: '#000000',
              backdropPadding: { x: 1, y: 1 },
            },
          },
          yHull: {
            ...axisBase,
            stackWeight: 322.8,
            min: -2286,
            max: 2435,
            afterBuildTicks: (s: any) => { s.ticks = HULL_TICKS.map((value) => ({ value })); },
            ticks: {
              autoSkip: false,
              padding: 1,
              color: '#000000',
              font: { family: UI_FONT, size: 12.4 },
              callback: (v: any) => (v === 0 ? '0.00' : (v / 1000000).toFixed(6)),
            },
          },
        },
      } as any,
      plugins: [panesPlugin, chromePlugin],
    });

    return () => chart.destroy();
  }, []);

  return (
    <div style={{ width: 2490, height: 1392, background: BG }}>
      <canvas ref={canvasRef} width={2490} height={1392} style={{ display: 'block' }} />
    </div>
  );
}
